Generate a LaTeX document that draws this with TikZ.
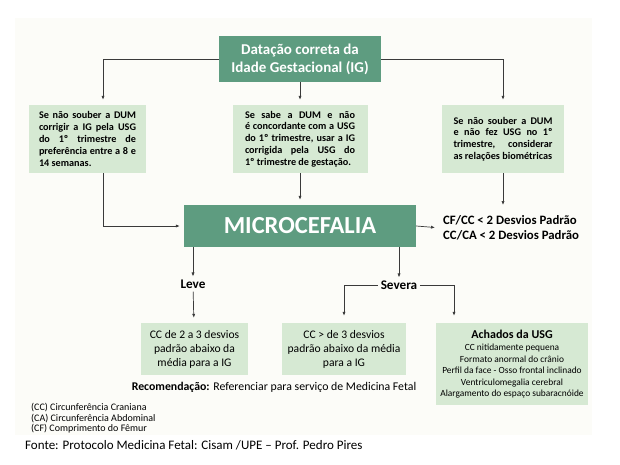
\documentclass[tikz,border=0pt]{standalone}
\usepackage{fontspec}
\setmainfont{Carlito}
\usetikzlibrary{arrows.meta}
\definecolor{verdeEsc}{HTML}{5E9C80}
\definecolor{verdeCla}{HTML}{D6E9D3}
\definecolor{fundo}{HTML}{FCFCF8}
\definecolor{linha}{HTML}{3A3A3A}

\begin{document}
\begin{tikzpicture}[x=1pt, y=-1pt,
    escuro/.style={fill=verdeEsc, text=white, font=\bfseries, align=center, inner sep=0pt},
    claro/.style={fill=verdeCla, inner sep=0pt},
    caixaTexto/.style={claro, minimum height=68pt, align=justify, font=\bfseries\fontsize{10.2}{11.8}\selectfont},
    seta/.style={draw=linha, line width=0.7pt, -{Latex[length=4pt,width=3.2pt]}}]
  \useasboundingbox (0,0) rectangle (620,465);
  \fill[fundo] (15,18) rectangle (592,435);

  \node[escuro, minimum width=162pt, minimum height=46pt, font=\bfseries\fontsize{15}{18}\selectfont] (ig) at (300,59) {Datação correta da\\Idade Gestacional (IG)};

  \node[caixaTexto, minimum width=117pt, text width=97pt] (dumA) at (87.5,139) {Se não souber a DUM\linebreak corrigir a IG pela USG\linebreak do 1º trimestre de\linebreak preferência entre a 8 e\linebreak 14 semanas.};
  \node[caixaTexto, minimum width=135pt, text width=110pt] (dumB) at (300,139) {Se sabe a DUM e não\linebreak é concordante com a USG\linebreak do 1º trimestre, usar a IG\linebreak corrigida pela USG do\linebreak 1º trimestre de gestação.};
  \node[caixaTexto, minimum width=122pt, text width=99pt] (dumC) at (503,139) {Se não souber a DUM\linebreak e não fez USG no 1º\linebreak trimestre, considerar\linebreak as relações biométricas};

  \node[escuro, minimum width=232pt, minimum height=42pt, font=\bfseries\fontsize{24.5}{24.5}\selectfont] (micro) at (300,226) {MICROCEFALIA};
  \node[anchor=west, align=left, inner sep=0pt, font=\bfseries\fontsize{12.8}{15}\selectfont] (razao) at (443,227.5) {CF/CC < 2 Desvios Padrão\\CC/CA < 2 Desvios Padrão};
  \coordinate (fimC) at (503,205);

  \node[inner sep=3pt, font=\bfseries\fontsize{13.2}{15}\selectfont] (leve) at (193,284) {Leve};
  \node[inner sep=3pt, font=\bfseries\fontsize{13.2}{15}\selectfont] (severa) at (399,285) {Severa};

  \node[claro, minimum width=107pt, minimum height=52pt, align=center, font=\fontsize{11.6}{14}\selectfont] (leveTxt) at (194.5,349) {CC de 2 a 3 desvios\\padrão abaixo da\\média para a IG};
  \node[claro, minimum width=124pt, minimum height=52pt, align=center, font=\fontsize{11.6}{14}\selectfont] (severaTxt) at (344,349) {CC > de 3 desvios\\padrão abaixo da média\\para a IG};
  \node[claro, minimum width=152pt, minimum height=82pt, align=center, font=\fontsize{9.4}{11.4}\selectfont] (achados) at (512,364) {{\bfseries\fontsize{12}{14}\selectfont Achados da USG}\\[1pt]CC nitidamente pequena\\Formato anormal do crânio\\Perfil da face - Osso frontal inclinado\\Ventriculomegalia cerebral\\Alargamento do espaço subaracnóide};

  \node[inner sep=0pt, font=\fontsize{11.8}{14}\selectfont] (recom) at (274,387) {\textbf{Recomendação:} Referenciar para serviço de Medicina Fetal};
  \node[anchor=west, align=left, inner sep=0pt, font=\fontsize{10}{10.6}\selectfont] (legenda) at (31,418.5) {(CC) Circunferência Craniana\\(CA) Circunferência Abdominal\\(CF) Comprimento do Fêmur};
  \node[anchor=west, inner sep=0pt, font=\fontsize{13}{15}\selectfont] (fonte) at (25,445) {Fonte: Protocolo Medicina Fetal: Cisam /UPE – Prof. Pedro Pires};

  \draw[seta] (ig.west) -| ([xshift=15.5pt, yshift=5pt]dumA.north);
  \draw[seta] (ig.south) -- ([yshift=5pt]dumB.north);
  \draw[seta] (ig.east) -| ([yshift=5pt]dumC.north);
  \draw[seta] ([xshift=15.5pt]dumA.south) |- ([xshift=-4pt]micro.west);
  \draw[seta] (dumB.south) -- ([yshift=5pt]micro.north);
  \draw[seta] (dumC.south) -- (fimC);
  \draw[seta] (micro.east) -- ([xshift=-8pt]razao.west);
  \draw[seta] (micro.south -| leve) -- (leve);
  \draw[seta] (micro.south -| severa) -- (severa);
  \draw[seta, shorten >=5pt] (leve) -- (leveTxt);
  \draw[seta] (severa.west) -| ([yshift=7pt]severaTxt.north);
  \draw[seta] (severa.east) -| ([xshift=-58pt, yshift=7pt]achados.north);
\end{tikzpicture}
\end{document}
